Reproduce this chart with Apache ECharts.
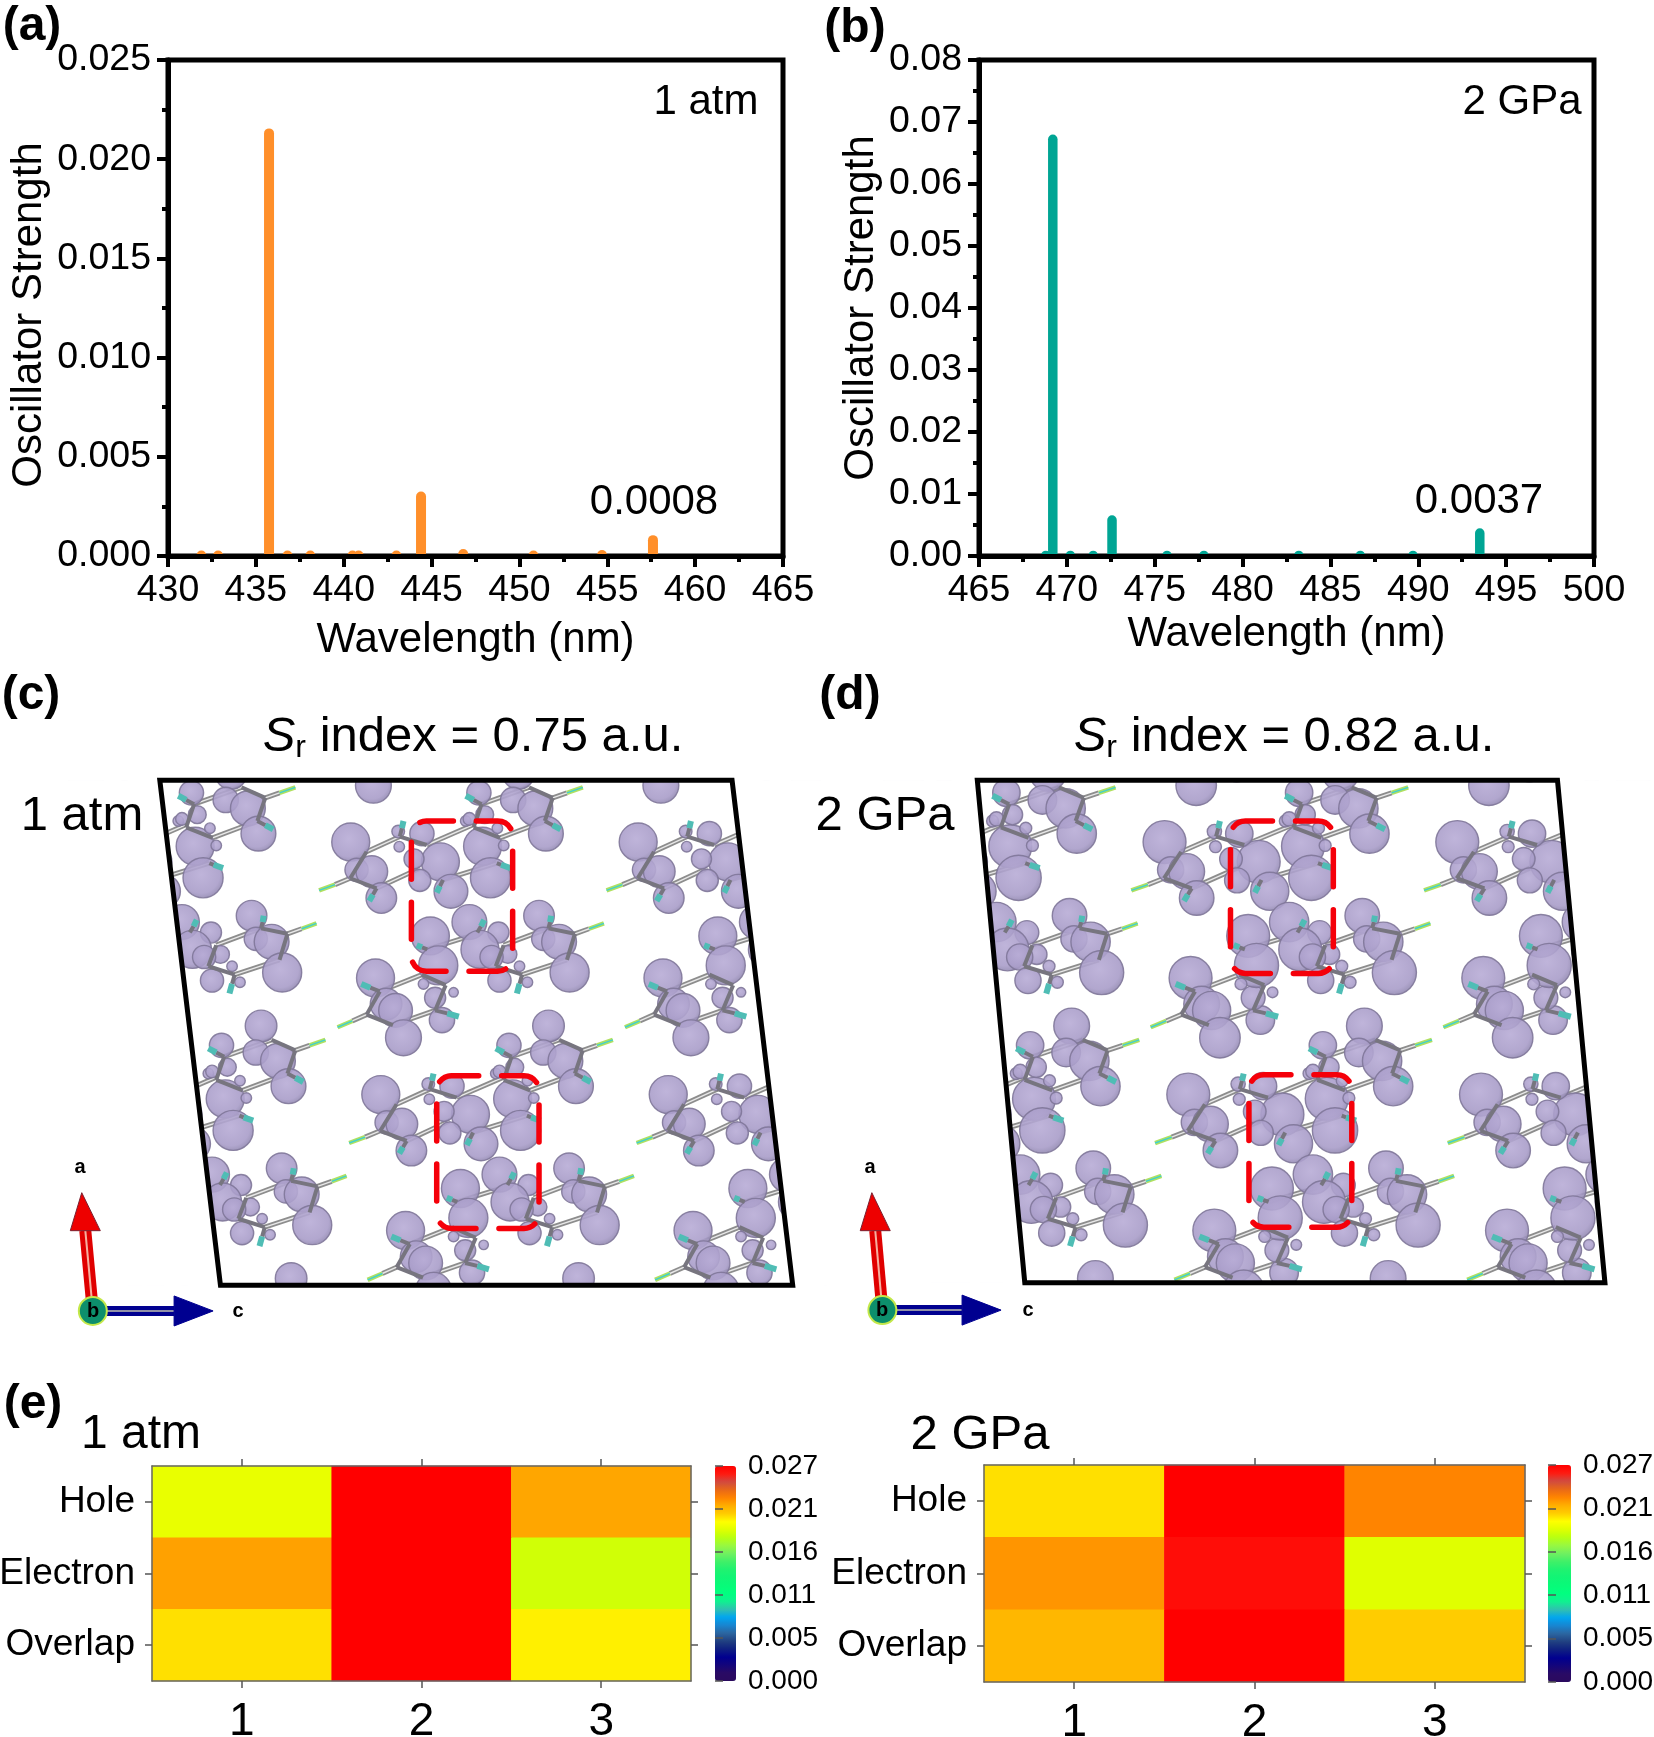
<!DOCTYPE html>
<html>
<head>
<meta charset="utf-8">
<title>Oscillator strength, hole-electron overlap</title>
<style>
html,body{margin:0;padding:0;background:#fff}
#chart{width:1654px;height:1737px}
</style>
<script src="https://cdn.jsdelivr.net/npm/echarts@6/dist/echarts.min.js"></script>
</head>
<body>
<div id="chart"></div>
<script>
var FONT = '"Liberation Sans", Arial, sans-serif';

// (a) 1 atm spectrum
var wavelengthA = [431.9, 432.85, 435.75, 436.8, 438.1, 440.5, 440.85, 443.0, 444.4, 446.8, 450.8, 454.7, 457.6];
var strengthA = [0.00002, 0.00002, 0.0213, 0.00002, 0.00002, 0.00002, 0.00002, 0.00002, 0.003, 0.0001, 0.00002, 0.00005, 0.0008];
// (b) 2 GPa spectrum
var wavelengthB = [468.8, 469.2, 470.2, 471.5, 472.57, 475.7, 477.8, 483.2, 486.7, 489.7, 493.5];
var strengthB = [0.0001, 0.0672, 0.0001, 0.0001, 0.0058, 0.0001, 0.0001, 0.0001, 0.0001, 0.0001, 0.0037];

// (e) heat maps, [column, row, value]
var heatColumns = ['1', '2', '3'];
var heatRows = ['Hole', 'Electron', 'Overlap'];
var heat1atm = [[0.0193, 0.027, 0.0222], [0.0223, 0.027, 0.0186], [0.0206, 0.027, 0.0203]];
var heat2GPa = [[0.0206, 0.027, 0.023], [0.0226, 0.0265, 0.019], [0.0217, 0.027, 0.021]];
var barTickLabels = ['0.000', '0.005', '0.011', '0.016', '0.021', '0.027'];
// colour bar, one colour per 0.001
var barColors = ['#2a0a5e', '#2a0a64', '#14057a', '#000090', '#0f1f80', '#204080', '#2c65a0', '#1885d0', '#00a5f0', '#30c0b0',
  '#10f090', '#00ff80', '#08fb78', '#10f575', '#20f270', '#40f068', '#70f060', '#98f840', '#b8ff10', '#e0ff00',
  '#ffff00', '#ffcc00', '#ffae00', '#ff8400', '#e86818', '#d04a40', '#ff1a10', '#ff0000'];

// (c)(d) isosurface lobes of one unit cell [x, y, radius], read in a 1568x1568 frame over each panel
var cellLobes = [
  [665,385,36],[676,451,22],[705,455,30],[723,518,29],[835,432,36],[915,395,36],[855,502,32],[930,470,38],[800,365,23],[755,360,12],[757,396,10],[883,335,10],[955,393,10],[785,425,19],[796,476,21],
  [890,575,33],[1022,560,29],[1030,615,22],[1060,622,33],[1080,695,37],[945,600,20],[963,652,17],[910,640,36],[932,658,22],[947,714,22],[985,680,10],[1000,718,10],
  [712,708,36],[732,770,30],[750,785,32],[765,850,34],[838,808,24],[825,755,20],[816,608,36],[831,678,37],[803,722,10],[860,742,9],
  [983,222,30],[908,268,23],[973,285,24],[1015,305,33],[1035,365,33],[919,320,17],[943,352,10],[890,330,12]
];
var lightBonds = [[695,408,758,372],[809,392,897,344],[714,495,796,447],[840,475,942,435],[913,295,1003,255],[948,375,1033,335],[955,630,1040,590],[990,700,1075,665],[810,640,897,606],[720,740,800,700],[745,820,825,785],
  [664,471,635,486],[1048,280,1075,268],[1090,603,1117,591],[695,795,668,810]];
var darkBonds = [[758,372,809,392],[664,471,695,408],[664,471,714,495],[1003,255,1048,280],[913,295,898,350],[898,350,948,375],[1033,335,1048,280],[1040,590,1090,603],[955,630,940,680],[940,680,990,700],[1075,665,1090,603],[695,795,745,820],[695,795,720,740],[800,700,845,725],[845,725,825,785],
  [758,372,762,352],[714,495,707,510],[942,435,950,439],[840,475,834,490],[913,295,898,285],[1033,335,1048,345],[1040,590,1043,575],[990,700,985,722],[825,785,848,792],[720,740,702,731],[905,600,912,585],[810,640,800,635]];
var fluorineBonds = [[762,352,765,335],[707,510,700,525],[950,439,968,447],[834,490,828,505],[898,285,883,275],[1048,345,1063,355],[1043,575,1045,560],[985,722,980,745],[848,792,870,800],[702,731,685,722],[912,585,918,570],[800,635,790,630]];
var nitrileBonds = [[635,486,605,500],[1075,268,1105,255],[1117,591,1145,578],[668,810,640,825]];

var cellOffsetsC = [[-602,-600],[-57,-600],[488,-600],[-545,0],[0,0],[545,0],[-488,600],[57,600],[602,600],[-431,1200],[114,1200],[659,1200]];
var cellOffsetsD = [[-625,-600],[-70,-600],[485,-600],[-580,0],[-25,0],[530,0],[-535,600],[20,600],[575,600],[-490,1200],[65,1200],[620,1200]];
var cellCornersC = [[303,238],[1388,238],[1503,1438],[418,1438]];
var cellCornersD = [[285,238],[1385,238],[1475,1432],[375,1432]];
// dashed boxes [x, y, w, h]
var dashBoxesC = [[780,335,192,357],[828,940,194,363]];
var dashBoxesD = [[765,335,195,362],[800,938,195,362]];
// axes triad [hubX, hubY, aTipX, aTipY, cTipX, cTipY]
var triadC = [176,1499,155,1218,404,1499];
var triadD = [105,1497,85,1218,330,1497];

var myChart = echarts.init(document.getElementById('chart'), null, {renderer: 'canvas', devicePixelRatio: 1});

function txt(x, y, s, size, extra) {
  var st = {text: s, fontSize: size, fontFamily: FONT, fill: '#000', align: 'center', verticalAlign: 'middle'};
  for (var k in (extra || {})) st[k] = extra[k];
  return {type: 'text', x: x, y: y, z: 100, style: st};
}
function srTitle(x, y, rest) {
  var base = {fontSize: 49, fontFamily: FONT, fill: '#000', lineHeight: 54};
  var t = txt(x, y, '{i|S}{s|r}{n|' + rest + '}', 49, {rich: {
    i: Object.assign({}, base, {fontStyle: 'italic'}),
    s: Object.assign({}, base, {fontSize: 32, lineHeight: 54, verticalAlign: 'bottom', padding: [14, 0, 0, 0]}),
    n: base
  }});
  return t;
}

var grids = [
  {left: 168, top: 60, width: 615, height: 496},
  {left: 979, top: 60, width: 615, height: 496},
  {left: 0, top: 680, width: 827, height: 660},
  {left: 827, top: 680, width: 827, height: 660},
  {left: 152, top: 1466, width: 539, height: 215},
  {left: 984, top: 1465, width: 541, height: 217},
  {left: 715, top: 1466, width: 21, height: 215},
  {left: 1548, top: 1465, width: 23, height: 217}
];
grids.forEach(function (g, i) {
  g.show = i < 2;
  g.borderColor = '#000';
  g.borderWidth = 5;
  g.backgroundColor = 'transparent';
  g.outerBoundsMode = 'none';
});

function spectrumX(grid, min, max, nameGap) {
  return {gridIndex: grid, type: 'value', min: min, max: max, interval: 5, z: 5,
    name: 'Wavelength (nm)', nameLocation: 'middle', nameGap: nameGap,
    nameTextStyle: {fontSize: 42, fontFamily: FONT, color: '#000'},
    axisLine: {onZero: false, lineStyle: {color: '#000', width: 5}},
    axisTick: {show: true, length: 11, lineStyle: {color: '#000', width: 4}},
    minorTick: {show: true, splitNumber: 2, length: 6, lineStyle: {color: '#000', width: 4}},
    splitLine: {show: false},
    axisLabel: {fontSize: 37.5, fontFamily: FONT, color: '#000', margin: 16}};
}
function spectrumY(grid, max, step, digits, nameGap, namePad) {
  return {gridIndex: grid, type: 'value', min: 0, max: max, interval: step, z: 5,
    name: 'Oscillator Strength', nameLocation: 'middle', nameGap: nameGap,
    nameTextStyle: {fontSize: 42, fontFamily: FONT, color: '#000', padding: namePad},
    axisLine: {onZero: false, lineStyle: {color: '#000', width: 5}},
    axisTick: {show: true, length: 11, lineStyle: {color: '#000', width: 4}},
    minorTick: {show: true, splitNumber: 2, length: 6, lineStyle: {color: '#000', width: 4}},
    splitLine: {show: false},
    axisLabel: {fontSize: 37.5, fontFamily: FONT, color: '#000', margin: 17, padding: [4, 0, 0, 0],
      formatter: function (v) { return v.toFixed(digits); }}};
}
function overlayX(grid) { return {gridIndex: grid, type: 'value', min: 0, max: 1568, show: false}; }
function overlayY(grid) { return {gridIndex: grid, type: 'value', min: 0, max: 1568, inverse: true, show: false}; }

var heatLine = {lineStyle: {color: '#666', width: 1.5}, onZero: false};
var heatTick = {show: true, length: 7, alignWithLabel: true, lineStyle: {color: '#555', width: 1.5}};
function heatX(grid, pos, labels) {
  return {gridIndex: grid, type: 'category', data: heatColumns, position: pos, z: 5,
    axisLine: heatLine, axisTick: heatTick, splitLine: {show: false},
    axisLabel: {show: labels, fontSize: 46, fontFamily: FONT, color: '#000', margin: 18}};
}
function heatY(grid, pos, labels) {
  return {gridIndex: grid, type: 'category', data: heatRows, inverse: true, position: pos, z: 5,
    axisLine: heatLine, axisTick: heatTick, splitLine: {show: false},
    axisLabel: {show: labels, fontSize: 37, fontFamily: FONT, color: '#000', margin: 17, padding: [5, 0, 0, 0]}};
}
function barX(grid) { return {gridIndex: grid, type: 'value', min: 0, max: 1, show: false}; }
function barY(grid) {
  return {gridIndex: grid, type: 'value', min: 0, max: 0.027, interval: 0.0054, position: 'right', z: 5,
    axisLine: {show: false}, splitLine: {show: false},
    axisTick: {show: true, length: 8, lineStyle: {color: '#555', width: 1.5}},
    axisLabel: {fontSize: 28, fontFamily: FONT, color: '#000', margin: 12, padding: [3, 0, 0, 0],
      formatter: function (v) { return barTickLabels[Math.round(v / 0.0054)]; }}};
}

function spectrumSeries(idx, xs, ys, color, width) {
  return {type: 'custom', xAxisIndex: idx, yAxisIndex: idx, clip: true, z: 2,
    data: xs.map(function (x, i) { return [x, ys[i]]; }),
    encode: {x: 0, y: 1},
    renderItem: function (p, api) {
      var a = api.coord([api.value(0), 0]);
      var b = api.coord([api.value(0), api.value(1)]);
      return {type: 'line', shape: {x1: a[0], y1: a[1], x2: b[0], y2: b[1]},
        style: {stroke: color, lineWidth: width, lineCap: 'round', fill: null}};
    }};
}
function heatData(rows) {
  var out = [];
  rows.forEach(function (r, j) { r.forEach(function (v, i) { out.push([i, j, v]); }); });
  return out;
}
function heatSeries(idx, rows) {
  return {type: 'heatmap', xAxisIndex: idx, yAxisIndex: idx, data: heatData(rows), z: 2,
    itemStyle: {borderWidth: 0}, emphasis: {disabled: true}};
}

// molecule sticks and lobes of panels (c) and (d)
function stretched(x, stretch) { return 665 + (x - 665) * stretch; }
function sticksSeries(idx, list, offsets, stretch, color, width, coreColor, z) {
  var data = [];
  offsets.forEach(function (o) {
    list.forEach(function (s) {
      data.push([stretched(s[0], stretch) + o[0], s[1] + o[1], stretched(s[2], stretch) + o[0], s[3] + o[1]]);
    });
  });
  return {type: 'custom', xAxisIndex: idx, yAxisIndex: idx, z: z, clip: true, data: data,
    encode: {x: [0, 2], y: [1, 3]},
    renderItem: function (p, api) {
      var a = api.coord([api.value(0), api.value(1)]);
      var b = api.coord([api.value(2), api.value(3)]);
      var shape = {x1: a[0], y1: a[1], x2: b[0], y2: b[1]};
      var kids = [{type: 'line', shape: shape, style: {stroke: color, lineWidth: width, fill: null}}];
      if (coreColor) kids.push({type: 'line', shape: shape, style: {stroke: coreColor, lineWidth: 1.4, fill: null}});
      return {type: 'group', children: kids};
    }};
}
function lobesSeries(idx, offsets, stretch, scale, corners) {
  var data = [];
  offsets.forEach(function (o) {
    cellLobes.forEach(function (b) {
      var y = b[1] + o[1];
      // lobes wholly above or below the cell never show
      if (y < corners[0][1] - 60 || y > corners[2][1] + 60) return;
      data.push([stretched(b[0], stretch) + o[0], y, 2 * b[2] / 1.896 * scale]);
    });
  });
  return {type: 'scatter', xAxisIndex: idx, yAxisIndex: idx, z: 3, clip: true, data: data,
    symbol: 'circle', symbolSize: function (v) { return v[2]; }, silent: true,
    itemStyle: {
      opacity: 0.9, borderColor: '#7f7799', borderWidth: 1.4,
      color: {type: 'radial', x: 0.45, y: 0.42, r: 0.6,
        colorStops: [{offset: 0, color: '#b8acd6'}, {offset: 0.75, color: '#a99dc9'}, {offset: 1, color: '#8f86ae'}]}
    }};
}
// white masks around the cell, then its black outline
function cellFrameSeries(idx, corners) {
  return {type: 'custom', xAxisIndex: idx, yAxisIndex: idx, z: 4, clip: true, silent: true, data: [[0, 0]],
    encode: {x: 0, y: 1},
    renderItem: function (p, api) {
      function pts(list) { return list.map(function (q) { return api.coord(q); }); }
      var tl = corners[0], tr = corners[1], br = corners[2], bl = corners[3];
      var quads = [
        [[0, 0], [1568, 0], [1568, tl[1]], [0, tl[1]]],
        [[0, bl[1]], [1568, bl[1]], [1568, 1568], [0, 1568]],
        [[0, tl[1]], tl, bl, [0, bl[1]]],
        [tr, [1568, tr[1]], [1568, br[1]], br]
      ];
      var kids = quads.map(function (q) {
        return {type: 'polygon', shape: {points: pts(q)}, style: {fill: '#fff', stroke: '#fff', lineWidth: 1}};
      });
      kids.push({type: 'polygon', shape: {points: pts(corners)},
        style: {fill: 'none', stroke: '#000', lineWidth: 5, lineJoin: 'miter'}});
      return {type: 'group', children: kids};
    }};
}
function dashBoxSeries(idx, boxes) {
  return {type: 'custom', xAxisIndex: idx, yAxisIndex: idx, z: 6, silent: true, data: boxes,
    encode: {x: [0], y: [1]},
    renderItem: function (p, api) {
      var a = api.coord([api.value(0), api.value(1)]);
      var b = api.coord([api.value(0) + api.value(2), api.value(1) + api.value(3)]);
      return {type: 'rect', shape: {x: a[0], y: a[1], width: b[0] - a[0], height: b[1] - a[1], r: 15},
        style: {fill: 'none', stroke: '#f5000a', lineWidth: 5.5, lineCap: 'round', lineDash: [37, 23], lineDashOffset: 10}};
    }};
}
function triadSeries(idx, t) {
  return {type: 'custom', xAxisIndex: idx, yAxisIndex: idx, z: 6, silent: true, data: [t],
    encode: {x: [0, 2, 4], y: [1, 3, 5]},
    renderItem: function (p, api) {
      var hub = api.coord([api.value(0), api.value(1)]);
      var at = api.coord([api.value(2), api.value(3)]);
      var ct = api.coord([api.value(4), api.value(5)]);
      var ux = (at[0] - hub[0]) / (hub[1] - at[1]);
      var aBaseY = at[1] + 38, aBaseX = at[0] - ux * 38;
      var cBaseX = ct[0] - 39;
      function line(x1, y1, x2, y2, c, w) {
        return {type: 'line', shape: {x1: x1, y1: y1, x2: x2, y2: y2}, style: {stroke: c, lineWidth: w, fill: null}};
      }
      return {type: 'group', children: [
        line(hub[0], hub[1], aBaseX, aBaseY, '#e00000', 12),
        line(hub[0], hub[1], aBaseX, aBaseY, '#f6b0a0', 2),
        {type: 'polygon', shape: {points: [at, [aBaseX - 15, aBaseY], [aBaseX + 15, aBaseY]]},
          style: {fill: '#ee0000', stroke: '#7a2030', lineWidth: 1}},
        line(hub[0], hub[1], cBaseX, ct[1], '#000090', 10),
        line(hub[0], hub[1], cBaseX, ct[1], '#9090a8', 2),
        {type: 'polygon', shape: {points: [ct, [cBaseX, ct[1] - 15], [cBaseX, ct[1] + 15]]},
          style: {fill: '#000090', stroke: '#000090', lineWidth: 1}},
        {type: 'circle', shape: {cx: hub[0], cy: hub[1], r: 14},
          style: {fill: '#0d8f6c', stroke: '#c4e84a', lineWidth: 2}}
      ]};
    }};
}

var graphics = [
  txt(32, 27, '(a)', 48, {fontWeight: 'bold'}),
  txt(855, 29, '(b)', 48, {fontWeight: 'bold'}),
  txt(31, 696, '(c)', 48, {fontWeight: 'bold'}),
  txt(850, 696, '(d)', 48, {fontWeight: 'bold'}),
  txt(33, 1405, '(e)', 48, {fontWeight: 'bold'}),
  txt(706, 102, '1 atm', 42),
  txt(654, 502, '0.0008', 42),
  txt(1522, 102, '2 GPa', 42),
  txt(1479, 501, '0.0037', 42),
  srTitle(473, 737, ' index = 0.75 a.u.'),
  srTitle(1284, 737, ' index = 0.82 a.u.'),
  txt(82, 816, '1 atm', 49),
  txt(885, 816, '2 GPa', 49),
  txt(141, 1435, '1 atm', 48),
  txt(980, 1435, '2 GPa', 49),
  txt(80, 1167, 'a', 20, {fontWeight: 'bold'}),
  txt(93, 1311, 'b', 20, {fontWeight: 'bold'}),
  txt(238, 1311, 'c', 20, {fontWeight: 'bold'}),
  txt(870, 1167, 'a', 20, {fontWeight: 'bold'}),
  txt(882, 1310, 'b', 20, {fontWeight: 'bold'}),
  txt(1028, 1310, 'c', 20, {fontWeight: 'bold'})
];

function visual(seriesIndex, left, top, w, h) {
  return {type: 'continuous', seriesIndex: seriesIndex, dimension: 2, min: 0, max: 0.027,
    left: left, top: top, itemWidth: w, itemHeight: h, padding: 0, orient: 'vertical', calculable: false,
    hoverLink: false, text: null, showLabel: false, inRange: {color: barColors}};
}

var stretchD = 1.05, lobeScaleD = 1.13;
var seriesList = [
  spectrumSeries(0, wavelengthA, strengthA, '#ff8f2a', 10),
  spectrumSeries(1, wavelengthB, strengthB, '#00a594', 9.5),

  sticksSeries(2, lightBonds, cellOffsetsC, 1, '#8d8d8d', 5, '#e8e8e8', 2),
  lobesSeries(2, cellOffsetsC, 1, 1, cellCornersC),
  sticksSeries(2, darkBonds, cellOffsetsC, 1, '#77757f', 4, null, 3.5),
  sticksSeries(2, fluorineBonds, cellOffsetsC, 1, '#4fbdb5', 6, null, 3.5),
  sticksSeries(2, nitrileBonds, cellOffsetsC, 1, '#b0e060', 4.5, '#40d0d0', 3.5),
  cellFrameSeries(2, cellCornersC),
  dashBoxSeries(2, dashBoxesC),
  triadSeries(2, triadC),

  sticksSeries(3, lightBonds, cellOffsetsD, stretchD, '#8d8d8d', 5, '#e8e8e8', 2),
  lobesSeries(3, cellOffsetsD, stretchD, lobeScaleD, cellCornersD),
  sticksSeries(3, darkBonds, cellOffsetsD, stretchD, '#77757f', 4, null, 3.5),
  sticksSeries(3, fluorineBonds, cellOffsetsD, stretchD, '#4fbdb5', 6, null, 3.5),
  sticksSeries(3, nitrileBonds, cellOffsetsD, stretchD, '#b0e060', 4.5, '#40d0d0', 3.5),
  cellFrameSeries(3, cellCornersD),
  dashBoxSeries(3, dashBoxesD),
  triadSeries(3, triadD)
];
var heatIndex1 = seriesList.length;
seriesList.push(heatSeries(4, heat1atm));
var heatIndex2 = seriesList.length;
seriesList.push(heatSeries(5, heat2GPa));

var option = {
  backgroundColor: '#fff',
  animation: false,
  tooltip: {show: false},
  grid: grids,
  xAxis: [
    spectrumX(0, 430, 465, 63), spectrumX(1, 465, 500, 57),
    overlayX(2), overlayX(3),
    heatX(4, 'bottom', true), heatX(5, 'bottom', true),
    barX(6), barX(7),
    heatX(4, 'top', false), heatX(5, 'top', false)
  ],
  yAxis: [
    spectrumY(0, 0.025, 0.005, 3, 118, [0, 14, 0, 0]), spectrumY(1, 0.08, 0.01, 2, 97, 0),
    overlayY(2), overlayY(3),
    heatY(4, 'left', true), heatY(5, 'left', true),
    barY(6), barY(7),
    heatY(4, 'right', false), heatY(5, 'right', false)
  ],
  visualMap: [visual(heatIndex1, 715, 1466, 21, 215), visual(heatIndex2, 1548, 1465, 23, 217)],
  series: seriesList,
  graphic: {elements: graphics}
};
myChart.setOption(option);
</script>
</body>
</html>
